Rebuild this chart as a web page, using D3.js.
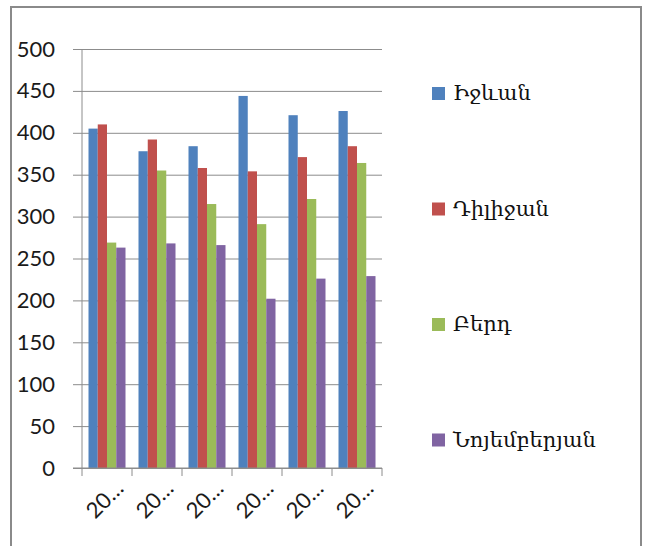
<!DOCTYPE html>
<html>
<head>
<meta charset="utf-8">
<script src="https://cdn.jsdelivr.net/npm/d3@7"></script>
<style>
  html, body { margin: 0; padding: 0; background: #fff; }
  svg { display: block; }
</style>
</head>
<body>
<svg id="chart" width="646" height="546"></svg>
<script>
const categories = ["20…", "20…", "20…", "20…", "20…", "20…"];
const seriesNames = ["Իջևան", "Դիլիջան", "Բերդ", "Նոյեմբերյան"];
const ijevan      = [405, 378, 384, 444, 421, 426];
const dilijan     = [410, 392, 358, 354, 371, 384];
const berd        = [269, 355, 315, 291, 321, 364];
const noyemberyan = [263, 268, 266, 202, 226, 229];
const yTicks = [0, 50, 100, 150, 200, 250, 300, 350, 400, 450, 500];
const colors = ["#4F81BD", "#C0504D", "#9BBB59", "#8064A2"];

const seriesValues = [ijevan, dilijan, berd, noyemberyan];
const svg = d3.select("#chart");

// outer frame
svg.append("rect")
  .attr("x", 11).attr("y", 7).attr("width", 630).attr("height", 560)
  .attr("fill", "none").attr("stroke", "#8a8a8a").attr("stroke-width", 2);

const pLeft = 82, pRight = 382, pTop = 49, pBottom = 468;

const x0 = d3.scaleBand().domain(d3.range(categories.length))
  .range([pLeft, pRight]).paddingInner(0.26).paddingOuter(0.13);
const x1 = d3.scaleBand().domain(d3.range(seriesNames.length))
  .range([0, x0.bandwidth()]);
const y = d3.scaleLinear().domain([0, 500]).range([pBottom, pTop]);

// gridlines + y labels
const yAxis = d3.axisLeft(y).tickValues(yTicks).tickSize(-(pRight - pLeft)).tickSizeOuter(0).tickPadding(27);
const gy = svg.append("g").attr("transform", `translate(${pLeft},0)`).call(yAxis);
gy.select(".domain").remove();
gy.selectAll(".tick line").attr("stroke", "#8c8c8c").attr("x1", -9);
gy.selectAll(".tick text")
  .attr("font-family", "Lato, 'Open Sans', sans-serif")
  .attr("font-size", 22).attr("fill", "#1a1a1a");

// y axis line
svg.append("line").attr("x1", pLeft).attr("x2", pLeft).attr("y1", pTop).attr("y2", pBottom)
  .attr("stroke", "#8c8c8c");

// bars
const groups = svg.append("g").selectAll("g").data(categories).join("g")
  .attr("transform", (d, i) => `translate(${x0(i)},0)`);
groups.selectAll("rect")
  .data((d, i) => seriesValues.map((s, k) => ({k, v: s[i]})))
  .join("rect")
  .attr("x", d => x1(d.k))
  .attr("width", x1.bandwidth())
  .attr("y", d => y(d.v))
  .attr("height", d => pBottom - y(d.v))
  .attr("fill", d => colors[d.k]);

// x axis
const xTickScale = d3.scaleLinear().domain([0, categories.length]).range([pLeft, pRight]);
const gx = svg.append("g");
gx.append("line").attr("x1", pLeft - 9).attr("x2", pRight).attr("y1", pBottom).attr("y2", pBottom)
  .attr("stroke", "#8c8c8c");
gx.selectAll("line.tk").data(d3.range(categories.length + 1)).join("line")
  .attr("class", "tk")
  .attr("x1", d => xTickScale(d)).attr("x2", d => xTickScale(d))
  .attr("y1", pBottom).attr("y2", pBottom + 8)
  .attr("stroke", "#8c8c8c");
gx.selectAll("text").data(categories).join("text")
  .attr("transform", (d, i) => `translate(${x0(i) + x0.bandwidth() / 2 + 14},${pBottom + 18}) rotate(-45)`)
  .attr("text-anchor", "end")
  .attr("dominant-baseline", "middle")
  .attr("font-family", "Lato, 'Open Sans', sans-serif")
  .attr("font-size", 22).attr("fill", "#1a1a1a")
  .text(d => d);

// legend
const legend = svg.append("g").selectAll("g").data(seriesNames).join("g")
  .attr("transform", (d, i) => `translate(432,${93.5 + i * 115.5})`);
legend.append("rect").attr("x", 0).attr("y", -6.5).attr("width", 13).attr("height", 13)
  .attr("fill", (d, i) => colors[i]);
legend.append("text").attr("x", 21).attr("y", 1)
  .attr("dominant-baseline", "middle")
  .attr("font-family", "'DejaVu Serif', 'DejaVu Sans', serif")
  .attr("font-size", 21).attr("fill", "#111")
  .text(d => d);
</script>
</body>
</html>
